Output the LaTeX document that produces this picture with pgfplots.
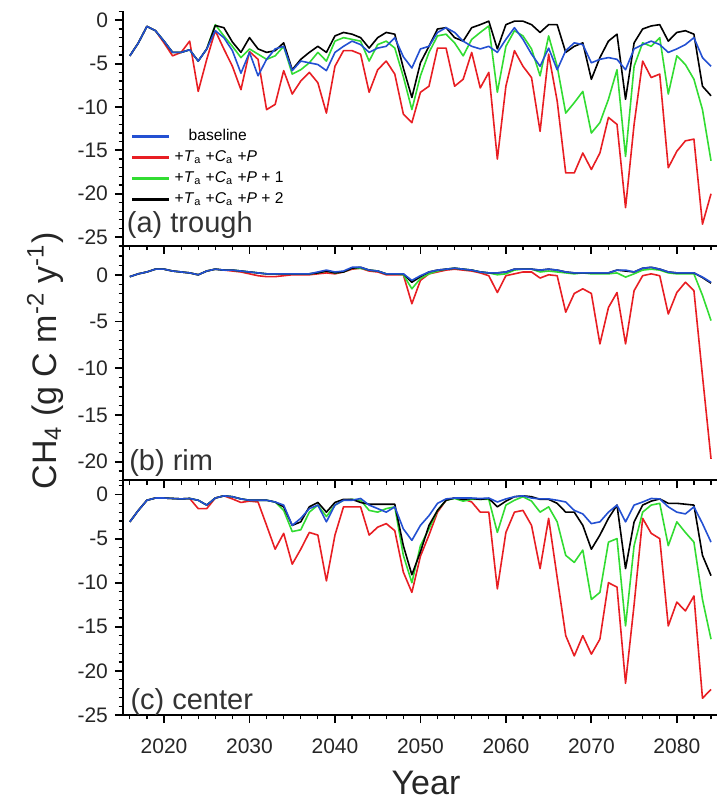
\documentclass[border=0pt]{standalone}
\usepackage{fontspec}
\setmainfont{Liberation Sans}
\usepackage{pgfplots}
\usepackage{pgfplotstable}
\pgfplotsset{compat=1.18}
\definecolor{cblue}{RGB}{35,80,210}
\definecolor{cred}{RGB}{232,30,35}
\definecolor{cgreen}{RGB}{50,220,50}

\pgfplotstableread{
yr b r g k
2016 -4.1 -4.1 -4.1 -4.1
2017 -2.6 -2.6 -2.6 -2.6
2018 -0.7 -0.7 -0.7 -0.7
2019 -1.2 -1.2 -1.2 -1.2
2020 -2.4 -2.6 -2.4 -2.4
2021 -3.7 -4.1 -3.7 -3.7
2022 -3.7 -3.7 -3.7 -3.7
2023 -3.4 -2.4 -3.4 -3.4
2024 -4.7 -8.2 -4.7 -4.7
2025 -3.3 -4.5 -3.3 -3.3
2026 -1.2 -1.2 -0.5 -0.6
2027 -2.0 -3.3 -1.8 -0.85
2028 -3.5 -5.3 -3.0 -2.5
2029 -6.1 -8.0 -4.3 -3.7
2030 -3.7 -3.6 -3.3 -2.0
2031 -6.4 -4.5 -3.9 -3.3
2032 -4.5 -10.3 -4.5 -3.7
2033 -3.3 -9.7 -4.1 -3.5
2034 -3.0 -5.8 -3.0 -2.6
2035 -5.8 -8.5 -6.2 -5.7
2036 -4.7 -7.0 -5.7 -4.5
2037 -4.9 -6.0 -4.9 -3.7
2038 -5.1 -7.2 -3.7 -3.0
2039 -5.8 -10.7 -4.7 -3.7
2040 -3.7 -5.3 -2.4 -1.8
2041 -3.0 -3.5 -2.0 -1.4
2042 -2.4 -3.5 -2.2 -1.6
2043 -2.8 -3.9 -2.4 -2.0
2044 -3.7 -8.3 -4.7 -3.2
2045 -3.2 -5.7 -2.8 -2.0
2046 -3.0 -4.7 -2.4 -1.4
2047 -2.0 -6.2 -3.2 -1.6
2048 -4.2 -10.8 -6.5 -5.5
2049 -5.5 -11.8 -10.3 -8.9
2050 -3.3 -8.3 -6.4 -4.9
2051 -3.0 -7.6 -3.7 -3.0
2052 -1.4 -3.2 -1.8 -1.0
2053 -0.85 -3.2 -1.6 -0.85
2054 -1.4 -7.6 -2.6 -2.0
2055 -2.4 -6.8 -4.1 -2.4
2056 -3.0 -3.7 -2.2 -0.85
2057 -3.3 -7.8 -1.4 -0.5
2058 -3.0 -6.0 -0.65 -0.1
2059 -3.7 -16.0 -8.3 -3.3
2060 -2.2 -7.6 -3.0 -0.5
2061 -0.85 -3.5 -1.2 -0.1
2062 -2.2 -5.3 -1.8 -0.1
2063 -3.9 -6.6 -3.3 -0.5
2064 -5.3 -12.8 -6.4 -1.4
2065 -3.2 -3.9 -1.8 -0.5
2066 -5.7 -9.3 -5.3 -0.5
2067 -3.5 -17.6 -10.7 -3.7
2068 -2.6 -17.6 -9.5 -3.0
2069 -2.8 -15.3 -8.2 -2.6
2070 -4.9 -17.2 -13.0 -6.8
2071 -4.5 -15.3 -11.8 -4.3
2072 -4.3 -11.2 -9.1 -2.4
2073 -4.5 -12.0 -5.7 -1.6
2074 -5.7 -21.6 -15.7 -9.1
2075 -3.3 -12.0 -5.3 -2.6
2076 -2.8 -4.7 -2.6 -1.0
2077 -2.4 -6.6 -3.0 -0.65
2078 -2.8 -6.2 -2.0 -0.5
2079 -3.7 -17.0 -8.5 -2.4
2080 -3.3 -15.1 -4.1 -1.4
2081 -2.8 -13.9 -5.1 -1.2
2082 -2.0 -13.7 -6.8 -1.6
2083 -4.3 -23.5 -10.3 -7.6
2084 -5.3 -20.0 -16.2 -8.7
}\ta

\pgfplotstableread{
yr b r g k
2016 -0.2 -0.2 -0.2 -0.2
2017 0.1 0.1 0.1 0.1
2018 0.3 0.3 0.3 0.3
2019 0.6 0.6 0.6 0.6
2020 0.6 0.6 0.6 0.6
2021 0.4 0.4 0.4 0.4
2022 0.3 0.3 0.3 0.3
2023 0.2 0.2 0.2 0.2
2024 0.0 0.0 0.0 0.0
2025 0.4 0.4 0.4 0.4
2026 0.6 0.6 0.6 0.6
2027 0.5 0.5 0.5 0.5
2028 0.5 0.4 0.5 0.5
2029 0.4 0.3 0.4 0.4
2030 0.3 0.1 0.3 0.3
2031 0.2 -0.1 0.2 0.2
2032 0.1 -0.2 0.1 0.1
2033 0.1 -0.2 0.1 0.1
2034 0.1 -0.1 0.1 0.1
2035 0.1 0.0 0.1 0.1
2036 0.1 0.0 0.1 0.1
2037 0.1 0.0 0.1 0.1
2038 0.3 0.1 0.2 0.2
2039 0.5 0.2 0.4 0.4
2040 0.3 0.1 0.2 0.2
2041 0.4 0.3 0.3 0.3
2042 0.8 0.6 0.7 0.7
2043 0.8 0.7 0.7 0.8
2044 0.5 0.4 0.5 0.5
2045 0.4 0.3 0.4 0.4
2046 0.1 0.0 0.1 0.1
2047 0.1 0.0 0.1 0.1
2048 0.1 0.0 0.0 0.1
2049 -0.6 -3.1 -1.5 -0.8
2050 -0.1 -0.6 -0.4 -0.2
2051 0.3 0.1 0.1 0.3
2052 0.5 0.3 0.4 0.5
2053 0.6 0.5 0.6 0.6
2054 0.7 0.6 0.7 0.7
2055 0.6 0.5 0.6 0.6
2056 0.5 0.4 0.5 0.5
2057 0.3 0.2 0.3 0.3
2058 0.2 -0.1 0.2 0.2
2059 0.2 -1.9 0.0 0.2
2060 0.3 -0.1 0.1 0.3
2061 0.6 0.1 0.5 0.6
2062 0.6 0.3 0.6 0.6
2063 0.6 0.3 0.6 0.6
2064 0.5 -0.35 0.3 0.5
2065 0.6 0.0 0.4 0.6
2066 0.5 -0.1 0.3 0.5
2067 0.3 -4.0 0.2 0.3
2068 0.2 -2.0 0.1 0.2
2069 0.2 -1.5 0.2 0.2
2070 0.2 -2.0 0.1 0.2
2071 0.2 -7.4 0.1 0.2
2072 0.2 -3.5 0.1 0.2
2073 0.5 -1.9 0.2 0.5
2074 0.5 -7.4 -0.25 0.4
2075 0.3 -1.7 0.1 0.3
2076 0.7 -0.1 0.5 0.7
2077 0.8 0.1 0.6 0.8
2078 0.6 -0.1 0.5 0.6
2079 0.3 -4.2 0.2 0.3
2080 0.2 -1.9 0.1 0.2
2081 0.2 -0.8 0.1 0.2
2082 0.2 -1.7 0.1 0.2
2083 -0.25 -10.8 -2.2 -0.3
2084 -0.8 -19.7 -4.9 -0.9
}\tb

\pgfplotstableread{
yr b r g k
2016 -3.1 -3.1 -3.1 -3.1
2017 -1.8 -1.8 -1.8 -1.8
2018 -0.65 -0.65 -0.65 -0.65
2019 -0.4 -0.4 -0.4 -0.4
2020 -0.4 -0.4 -0.4 -0.4
2021 -0.45 -0.45 -0.45 -0.45
2022 -0.5 -0.5 -0.5 -0.5
2023 -0.45 -0.45 -0.45 -0.45
2024 -0.65 -1.6 -0.65 -0.65
2025 -1.2 -1.6 -1.2 -1.2
2026 -0.4 -0.4 -0.4 -0.4
2027 -0.15 -0.15 -0.15 -0.15
2028 -0.25 -0.5 -0.25 -0.25
2029 -0.5 -0.9 -0.5 -0.5
2030 -0.65 -0.75 -0.65 -0.65
2031 -0.65 -0.85 -0.65 -0.65
2032 -0.65 -3.5 -0.65 -0.65
2033 -0.85 -6.2 -0.85 -0.85
2034 -1.2 -4.4 -1.8 -1.4
2035 -3.5 -7.9 -4.2 -3.5
2036 -2.7 -6.2 -4.0 -3.1
2037 -1.6 -4.3 -2.0 -1.4
2038 -1.2 -4.6 -1.2 -0.9
2039 -3.1 -9.8 -2.5 -2.0
2040 -1.2 -4.6 -1.2 -0.9
2041 -0.65 -1.4 -0.65 -0.55
2042 -0.65 -1.4 -0.55 -0.55
2043 -0.45 -1.4 -0.65 -0.9
2044 -1.2 -4.6 -1.8 -1.1
2045 -1.6 -3.7 -2.0 -1.1
2046 -2.0 -3.3 -1.6 -1.1
2047 -1.4 -4.1 -1.4 -1.1
2048 -3.9 -8.8 -6.9 -5.8
2049 -5.2 -11.1 -10.0 -9.1
2050 -3.5 -7.0 -5.8 -6.5
2051 -2.4 -4.6 -3.9 -3.5
2052 -1.0 -2.0 -1.8 -1.8
2053 -0.5 -0.65 -0.65 -0.65
2054 -0.4 -0.4 -0.45 -0.4
2055 -0.4 -0.5 -0.75 -0.55
2056 -0.4 -0.85 -0.55 -0.45
2057 -0.45 -2.0 -0.55 -0.55
2058 -0.4 -2.0 -0.55 -0.45
2059 -0.85 -10.7 -4.3 -1.4
2060 -0.5 -4.3 -1.2 -0.75
2061 -0.25 -2.0 -0.65 -0.25
2062 -0.15 -1.8 -0.25 -0.15
2063 -0.4 -3.5 -0.75 -0.25
2064 -0.5 -8.4 -2.0 -0.55
2065 -0.5 -2.7 -1.4 -0.55
2066 -0.65 -9.4 -3.1 -1.0
2067 -0.85 -16.0 -6.9 -2.0
2068 -1.8 -18.3 -7.7 -2.0
2069 -2.2 -16.0 -6.3 -3.5
2070 -3.3 -18.1 -11.9 -6.2
2071 -3.1 -16.4 -11.1 -4.6
2072 -2.0 -10.0 -5.4 -2.7
2073 -1.2 -10.5 -5.0 -1.2
2074 -3.1 -21.4 -14.9 -8.4
2075 -1.2 -12.5 -5.8 -3.1
2076 -0.85 -2.7 -2.0 -1.2
2077 -0.45 -4.4 -1.2 -0.75
2078 -0.5 -5.0 -1.0 -0.5
2079 -1.4 -14.9 -5.8 -1.0
2080 -2.0 -12.2 -3.1 -1.0
2081 -2.2 -13.2 -4.3 -1.1
2082 -1.4 -11.5 -5.4 -1.2
2083 -3.3 -23.1 -11.9 -6.9
2084 -5.4 -22.1 -16.4 -9.2
}\tc

\tikzset{panellabel/.style={anchor=base west, font=\fontsize{14.5}{17}\selectfont, text=black!80, inner sep=0pt}}

\pgfplotsset{
  panel/.style={
    scale only axis, width=297pt, height=117.3pt,
    xmin=2015.2, xmax=2084.7,
    axis lines*=left,
    axis line style={line width=1pt, black},
    tick align=outside,
    major tick length=4pt, minor tick length=2.2pt,
    every major tick/.append style={line width=0.9pt, black},
    every minor tick/.append style={line width=0.6pt, black},
    xtick={2020,2030,...,2080},
    minor xtick={2016,2018,...,2084},
    tick label style={font=\fontsize{10.5}{12}\selectfont, text=black!85},
    anchor=south west,
    every axis plot/.append style={line width=0.8pt, line join=round},
  },
}

\begin{document}
\begin{tikzpicture}
\path[use as bounding box] (0,0) rectangle (358.5pt,402.5pt);

% panel (c) center
\begin{axis}[panel, at={(61.5pt,45pt)},
  ymin=-25, ymax=1.6,
  ytick={-25,-20,-15,-10,-5,0}, yticklabels={-25,-20,-15,-10,-5,0},
  minor ytick={-25,-24,...,1},
  xticklabels={2020,2030,2040,2050,2060,2070,2080},
  xticklabel style={yshift=-4.5pt}]
\addplot[cred] table[x=yr,y=r]{\tc};
\addplot[cgreen] table[x=yr,y=g]{\tc};
\addplot[black] table[x=yr,y=k]{\tc};
\addplot[cblue] table[x=yr,y=b]{\tc};
\node[panellabel] at (rel axis cs:0.012,0.024) {(c) center};
\end{axis}

% panel (b) rim
\begin{axis}[panel, at={(61.5pt,162.3pt)},
  ymin=-22, ymax=3.1,
  ytick={-20,-15,-10,-5,0}, yticklabels={-20,-15,-10,-5,0},
  minor ytick={-22,-21,...,3},
  xticklabels={}]
\addplot[cred] table[x=yr,y=r]{\tb};
\addplot[cgreen] table[x=yr,y=g]{\tb};
\addplot[black] table[x=yr,y=k]{\tb};
\addplot[cblue] table[x=yr,y=b]{\tb};
\node[panellabel] at (rel axis cs:0.01,0.042) {(b) rim};
\end{axis}

% panel (a) trough
\begin{axis}[panel, at={(61.5pt,279.6pt)},
  ymin=-26, ymax=1.05,
  ytick={-25,-20,-15,-10,-5,0}, yticklabels={-25,-20,-15,-10,-5,0},
  minor ytick={-26,-25,...,1},
  xticklabels={},
  legend style={at={(rel axis cs:0.012,0.515)}, anchor=north west, draw=none, fill=none,
    font=\fontsize{7.8}{9}\selectfont, row sep=-0.5pt, inner sep=0pt, cells={anchor=west}},
  legend image code/.code={\draw[#1, line width=1.6pt] (0pt,0pt) -- (18.5pt,0pt);}]
\addlegendimage{cblue}
\addlegendimage{cred}
\addlegendimage{cgreen}
\addlegendimage{black}
\addplot[cred, forget plot] table[x=yr,y=r]{\ta};
\addplot[cgreen, forget plot] table[x=yr,y=g]{\ta};
\addplot[black, forget plot] table[x=yr,y=k]{\ta};
\addplot[cblue, forget plot] table[x=yr,y=b]{\ta};
\legend{\hspace{7pt}baseline,
  +\textit{T}\textsubscript{a} +\textit{C}\textsubscript{a} +\textit{P},
  +\textit{T}\textsubscript{a} +\textit{C}\textsubscript{a} +\textit{P} + 1,
  +\textit{T}\textsubscript{a} +\textit{C}\textsubscript{a} +\textit{P} + 2}
\node[panellabel] at (rel axis cs:0.006,0.058) {(a) trough};
\end{axis}

\node[rotate=90, font=\fontsize{17}{20}\selectfont, text=black!85] at (22.5pt,222pt)
  {CH\textsubscript{4} (g C m\textsuperscript{-2} y\textsuperscript{-1})};
\node[font=\fontsize{17}{20}\selectfont, text=black!85] at (213pt,11pt) {Year};
\end{tikzpicture}
\end{document}
